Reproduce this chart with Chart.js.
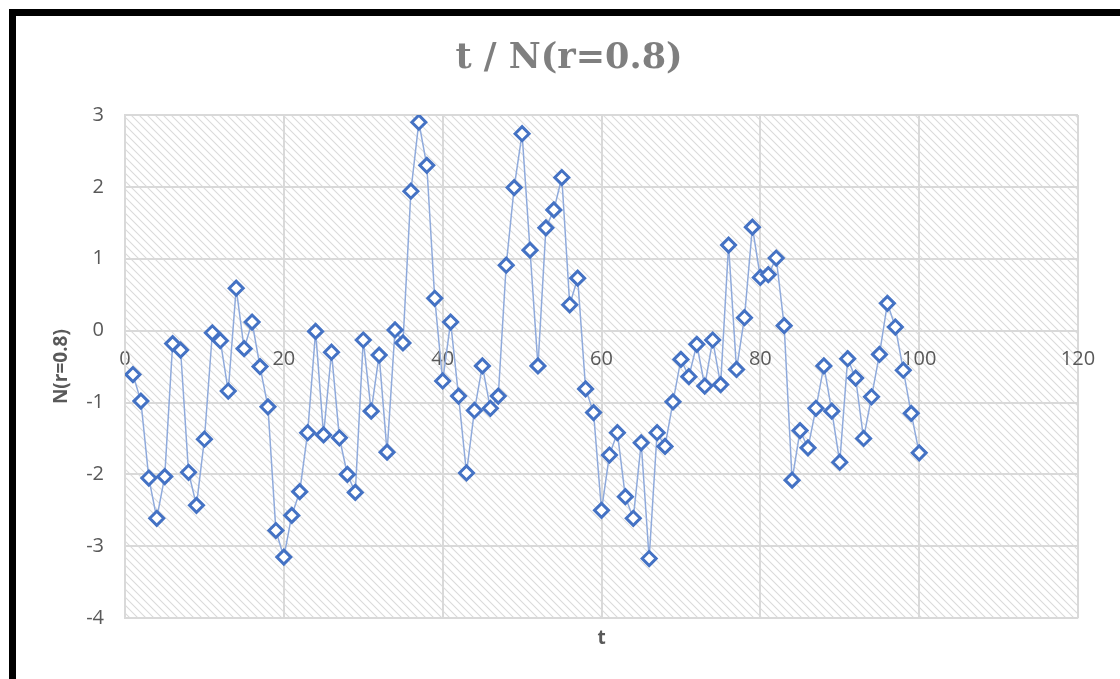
<!DOCTYPE html>
<html>
<head>
<meta charset="utf-8">
<script src="https://cdn.jsdelivr.net/npm/chart.js@4.4.1/dist/chart.umd.min.js"></script>
<style>
    html, body { margin: 0; padding: 0; background: #ffffff; overflow: hidden; }
    #wrap { position: relative; width: 1120px; height: 679px; }
    #frame {
        position: absolute; left: 9px; top: 9px; width: 2000px; height: 2000px;
        border-top: 7px solid #000; border-left: 7px solid #000;
        pointer-events: none;
    }
    #chartTitle {
        position: absolute; left: 0; top: 35px; width: 1138px; line-height: 42px;
        text-align: center; font: bold 35px "DejaVu Serif", serif; color: #7f7f7f;
    }
    canvas { position: absolute; left: 0; top: 0; }
</style>
</head>
<body>
<div id="wrap">
    <canvas id="chart" width="1120" height="679"></canvas>
    <div id="chartTitle">t / N(r=0.8)</div>
    <div id="frame"></div>
</div>
<script>
// t (horizontal) and N(r=0.8) (vertical)
const tValues = [
    1, 2, 3, 4, 5, 6, 7, 8, 9, 10,
    11, 12, 13, 14, 15, 16, 17, 18, 19, 20,
    21, 22, 23, 24, 25, 26, 27, 28, 29, 30,
    31, 32, 33, 34, 35, 36, 37, 38, 39, 40,
    41, 42, 43, 44, 45, 46, 47, 48, 49, 50,
    51, 52, 53, 54, 55, 56, 57, 58, 59, 60,
    61, 62, 63, 64, 65, 66, 67, 68, 69, 70,
    71, 72, 73, 74, 75, 76, 77, 78, 79, 80,
    81, 82, 83, 84, 85, 86, 87, 88, 89, 90,
    91, 92, 93, 94, 95, 96, 97, 98, 99, 100
];
const nValues = [
    -0.61, -0.98, -2.05, -2.61, -2.03, -0.18, -0.27, -1.97, -2.43, -1.51,
    -0.03, -0.14, -0.84, 0.59, -0.25, 0.12, -0.50, -1.06, -2.78, -3.15,
    -2.57, -2.24, -1.42, -0.01, -1.45, -0.30, -1.49, -2.00, -2.25, -0.13,
    -1.12, -0.34, -1.69, 0.01, -0.17, 1.94, 2.90, 2.30, 0.45, -0.70,
    0.12, -0.91, -1.98, -1.11, -0.49, -1.08, -0.91, 0.91, 1.99, 2.74,
    1.12, -0.49, 1.43, 1.68, 2.13, 0.36, 0.73, -0.81, -1.14, -2.50,
    -1.73, -1.42, -2.31, -2.61, -1.56, -3.17, -1.42, -1.61, -0.99, -0.40,
    -0.64, -0.19, -0.77, -0.13, -0.75, 1.19, -0.54, 0.18, 1.44, 0.74,
    0.78, 1.01, 0.07, -2.08, -1.39, -1.63, -1.08, -0.49, -1.12, -1.83,
    -0.39, -0.66, -1.50, -0.92, -0.33, 0.38, 0.05, -0.55, -1.15, -1.70
];
const xRange = [0, 120];
const yRange = [-4, 3];

const gridColor = '#d9d9d9';
const labelColor = '#595959';

// downward diagonal hatch for the plot area
function makeHatch() {
    const tile = document.createElement('canvas');
    tile.width = 8;
    tile.height = 8;
    const c = tile.getContext('2d');
    c.fillStyle = '#ffffff';
    c.fillRect(0, 0, 8, 8);
    c.strokeStyle = '#dadada';
    c.lineWidth = 1.1;
    [-8, 0, 8].forEach(k => {
        c.beginPath();
        c.moveTo(-1, -1 + k);
        c.lineTo(9, 9 + k);
        c.stroke();
    });
    return tile;
}

const hatchBackground = {
    id: 'hatchBackground',
    beforeDraw(chart) {
        const {ctx, chartArea} = chart;
        ctx.save();
        ctx.fillStyle = ctx.createPattern(makeHatch(), 'repeat');
        ctx.fillRect(chartArea.left, chartArea.top, chartArea.right - chartArea.left, chartArea.bottom - chartArea.top);
        ctx.restore();
    }
};

const ctx = document.getElementById('chart').getContext('2d');
new Chart(ctx, {
    type: 'scatter',
    data: {
        datasets: [{
            label: 'N(r=0.8)',
            data: tValues.map((t, i) => ({x: t, y: nValues[i]})),
            showLine: true,
            borderColor: '#8faadc',
            borderWidth: 1.5,
            pointStyle: 'rectRot',
            pointRadius: 7,
            pointHoverRadius: 7,
            pointBorderWidth: 3,
            pointBorderColor: '#4472c4',
            pointBackgroundColor: '#ffffff'
        }]
    },
    options: {
        responsive: false,
        animation: false,
        devicePixelRatio: 1,
        layout: {
            padding: {left: 40, right: 42, top: 115, bottom: 0}
        },
        plugins: {
            legend: {display: false},
            tooltip: {enabled: false}
        },
        scales: {
            x: {
                type: 'linear',
                position: {y: 0},
                min: xRange[0],
                max: xRange[1],
                ticks: {
                    stepSize: 20,
                    padding: 17,
                    color: labelColor,
                    font: {family: 'Open Sans', size: 20}
                },
                grid: {color: gridColor, lineWidth: 2, drawTicks: false},
                border: {color: gridColor, width: 2}
            },
            xTitle: {
                type: 'linear',
                position: 'bottom',
                axis: 'x',
                min: xRange[0],
                max: xRange[1],
                ticks: {display: false},
                grid: {display: false, drawTicks: false},
                border: {display: false},
                title: {
                    display: true,
                    text: 't',
                    color: labelColor,
                    font: {family: 'Open Sans', size: 19, weight: 'bold'},
                    padding: {top: 9, bottom: 29}
                }
            },
            y: {
                type: 'linear',
                position: 'left',
                min: yRange[0],
                max: yRange[1],
                afterFit(scale) {
                    scale.width = 85; // plot area starts at x = 125
                },
                ticks: {
                    stepSize: 1,
                    padding: 21,
                    color: labelColor,
                    font: {family: 'Open Sans', size: 20}
                },
                grid: {color: gridColor, lineWidth: 2, drawTicks: false},
                border: {color: gridColor, width: 2},
                title: {
                    display: true,
                    text: 'N(r=0.8)',
                    color: labelColor,
                    font: {family: 'Open Sans', size: 19, weight: 'bold'},
                    padding: {top: 10, bottom: 4}
                }
            }
        }
    },
    plugins: [hatchBackground]
});
</script>
</body>
</html>
